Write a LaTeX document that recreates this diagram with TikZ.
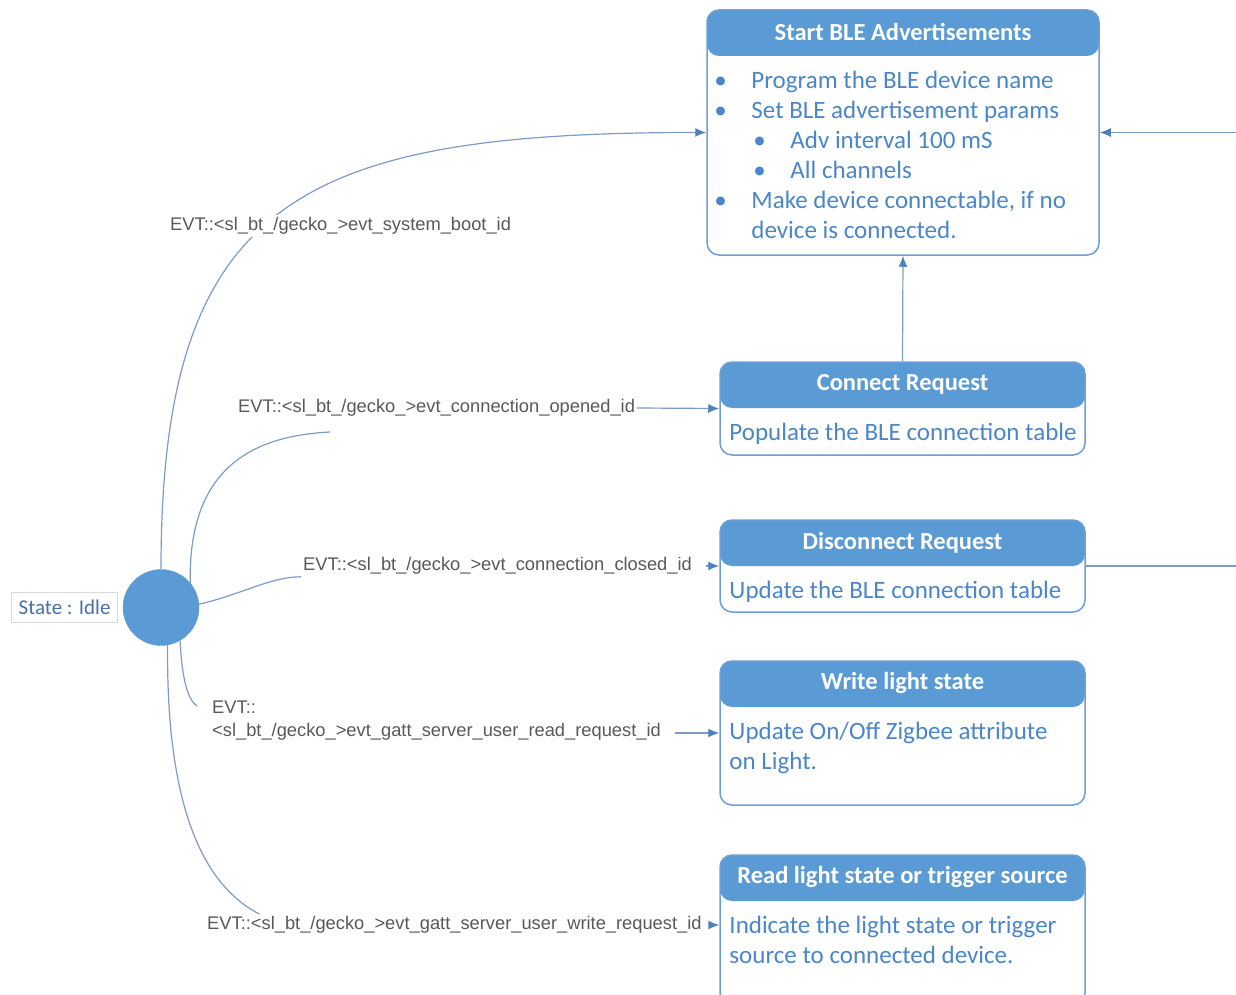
\documentclass[tikz,border=0pt]{standalone}
\usepackage{fontspec}
\setmainfont{Carlito}
\newfontfamily\evtfont{Liberation Sans}
\usetikzlibrary{positioning,arrows.meta,backgrounds,calc}
\definecolor{hdrblue}{HTML}{5B9BD5}
\definecolor{frameblue}{HTML}{6B9FD6}
\definecolor{bodyblue}{HTML}{4A86C8}
\definecolor{linkblue}{HTML}{7D9BC4}
\definecolor{tipblue}{HTML}{4F81BD}
\definecolor{evtgray}{HTML}{595959}
\definecolor{idlegray}{HTML}{D9D9D9}
\definecolor{idletext}{HTML}{4A6FA8}
\newcommand{\blt}{\makebox[37pt][l]{•}}
\newcommand{\subblt}{\hspace*{39pt}\makebox[37pt][l]{•}}

\begin{document}
\begin{tikzpicture}
[x=1pt, y=-1pt,
statebox/.style={draw=frameblue, line width=1.5pt, rounded corners=12pt, fill=white, minimum width=365pt, inner sep=0pt,
  path picture={\fill[hdrblue] (path picture bounding box.north west) rectangle ([yshift=-46pt]path picture bounding box.north east);}},
title/.style={text=white, font=\fontsize{24.5}{28}\selectfont\bfseries, minimum height=46pt, inner sep=0pt},
body/.style={text=bodyblue, font=\fontsize{25}{30}\selectfont, align=left, inner sep=0pt},
evt/.style={text=evtgray, font=\evtfont\fontsize{18.3}{23}\selectfont, fill=white, inner sep=2pt, anchor=west, align=left},
link/.style={draw=linkblue, line width=1.2pt},
arr/.style={link, -{Latex[length=11pt, width=9pt, color=tipblue]}},
idlestate/.style={circle, fill=hdrblue, draw=frameblue, minimum size=76pt, inner sep=0pt},
idlebox/.style={draw=idlegray, text=idletext, font=\fontsize{21}{24}\selectfont, minimum width=106pt, minimum height=30pt, inner sep=2pt}
]
\useasboundingbox (0,0) rectangle (1236,995);

%Nodes
\node[statebox, minimum width=392pt, minimum height=245pt] (start) at (903,132.5) {};
\node[statebox, minimum height=93pt]  (conn)  at (902.5,408.5) {};
\node[statebox, minimum height=92pt]  (disc)  at (902.5,566) {};
\node[statebox, minimum height=144pt] (write) at (902.5,733) {};
\node[statebox, minimum height=150pt] (read)  at (902.5,930) {};

\node[title, below=0pt of start.north] (start title) {Start BLE Advertisements};
\node[title, below=0pt of conn.north]  (conn title)  {Connect Request};
\node[title, below=0pt of disc.north]  (disc title)  {Disconnect Request};
\node[title, below=0pt of write.north] (write title) {Write light state};
\node[title, below=0pt of read.north]  (read title)  {Read light state or trigger source};

\node[body, below right=62pt and 8pt of start.north west] (start body)
  {\blt Program the BLE device name\\
   \blt Set BLE advertisement params\\
   \subblt Adv interval 100 mS\\
   \subblt All channels\\
   \blt Make device connectable, if no\\
   \hspace*{37pt}device is connected.};
\node[body, below right=62pt and 10pt of conn.north west]  (conn body)  {Populate the BLE connection table};
\node[body, below right=62pt and 10pt of disc.north west]  (disc body)  {Update the BLE connection table};
\node[body, below right=62pt and 10pt of write.north west] (write body) {Update On/Off Zigbee attribute\\on Light.};
\node[body, below right=62pt and 10pt of read.north west]  (read body)  {Indicate the light state or trigger\\source to connected device.};

\node[idlestate] (idle) at (161,607.5) {};
\node[idlebox, left=5pt of idle] (state) {State : Idle};

\node[evt] (boot)     at (168,226) {EVT::<sl\_bt\_/gecko\_>evt\_system\_boot\_id};
\node[evt] (opened)   at (236,408) {EVT::<sl\_bt\_/gecko\_>evt\_connection\_opened\_id};
\node[evt] (closed)   at (301,566) {EVT::<sl\_bt\_/gecko\_>evt\_connection\_closed\_id};
\node[evt] (readreq)  at (210,721) {EVT::\\<sl\_bt\_/gecko\_>evt\_gatt\_server\_user\_read\_request\_id};
\node[evt] (writereq) at (205,925) {EVT::<sl\_bt\_/gecko\_>evt\_gatt\_server\_user\_write\_request\_id};

\coordinate (c2) at (330,432);
\coordinate (c4) at (197,706);
\coordinate (c5) at (268,918);
\coordinate (back1) at (1236,132.5);
\coordinate (back2) at (1236,566);

%Lines
\begin{scope}[on background layer]
\draw[arr]  (idle.north) .. controls (161,200) and (300,132.5) .. (start.west);
\draw[link] (idle.40) .. controls (188,470) and (250,436) .. (c2);
\draw[arr]  (opened.east) -- (conn.west);
\draw[link] (idle.5) .. controls (240,595) and (270,577) .. (closed.south west);
\draw[arr]  ($(closed.east)+(12,0)$) -- (disc.west);
\draw[link] (idle.-60) .. controls (182,680) and (188,700) .. (c4);
\draw[arr]  ($(readreq.east |- write.west)+(12,0)$) -- (write.west);
\draw[link] (idle.-80) .. controls (166,800) and (200,890) .. (c5);
\draw[arr]  ($(writereq.east)+(6,0)$) -- (writereq.east -| read.west);
\draw[arr]  (conn.north) -- (start.south);
\draw[arr]  (back1) -- (start.east);
\draw[link] (disc.east) -- (back2);
\end{scope}

\end{tikzpicture}
\end{document}
